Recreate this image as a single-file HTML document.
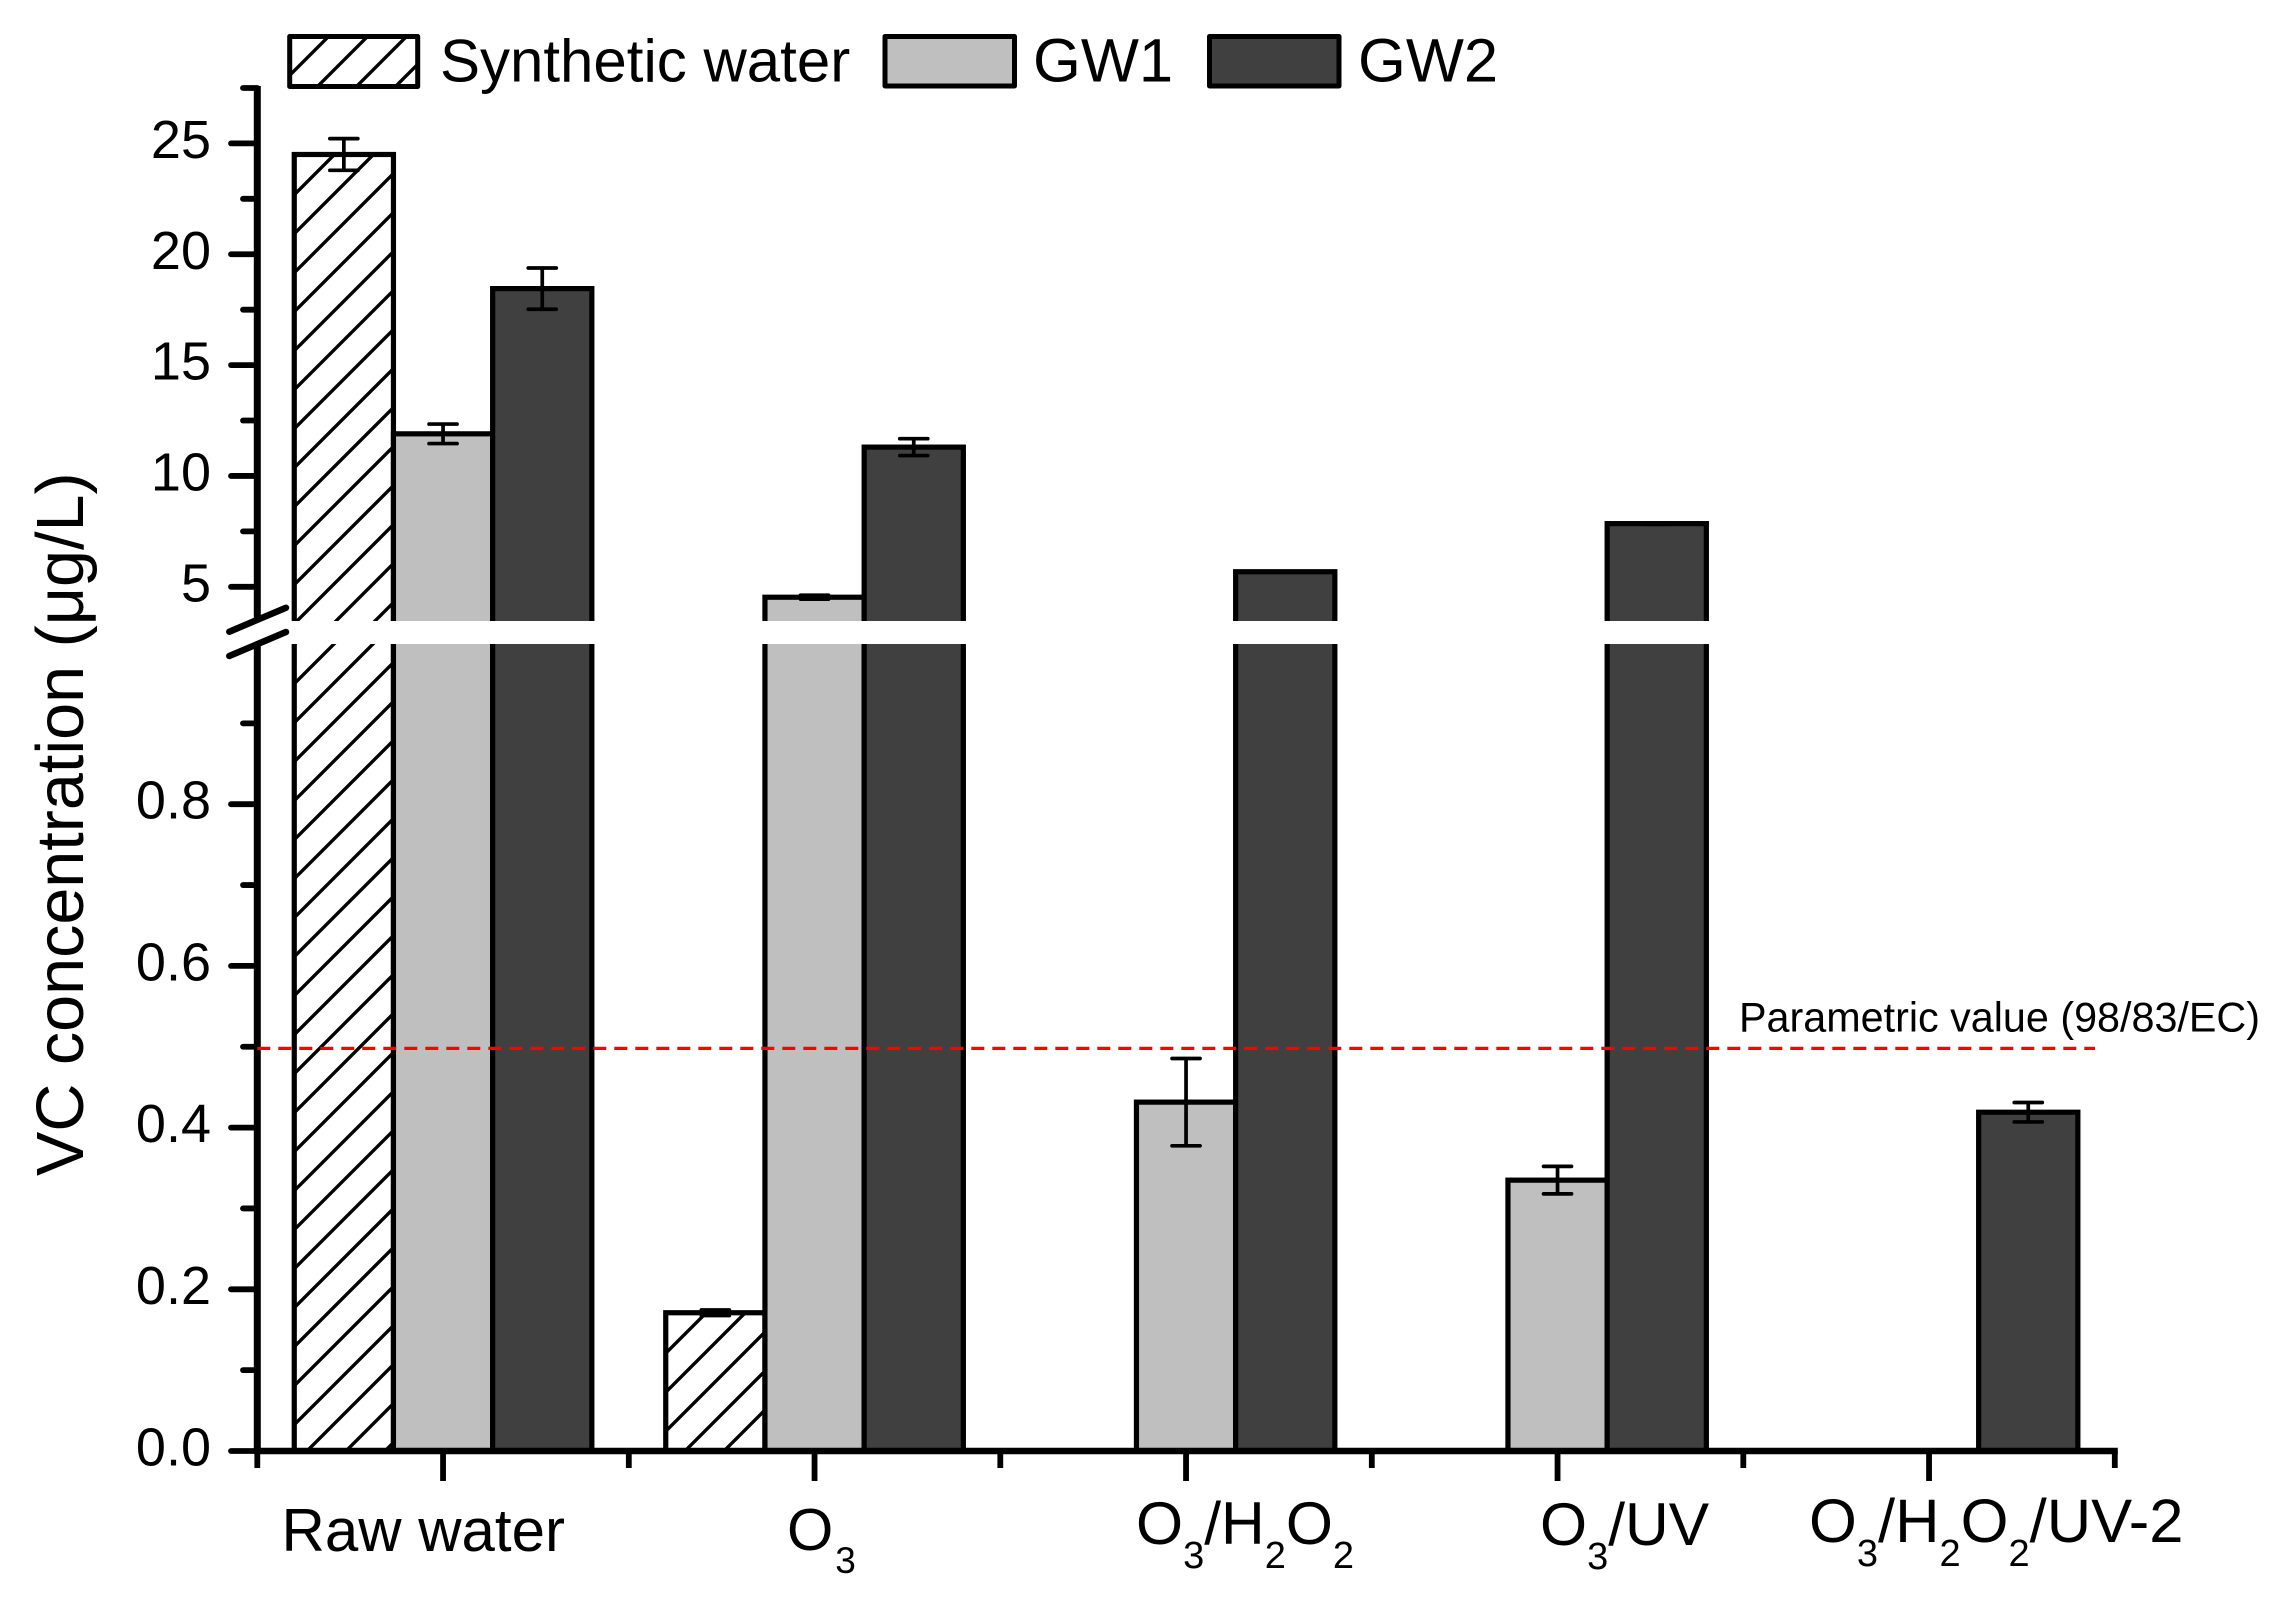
<!DOCTYPE html>
<html lang="en">
<head>
<meta charset="utf-8">
<title>VC concentration chart</title>
<style>
html,body{margin:0;padding:0;background:#fff;}
svg{display:block;font-family:"Liberation Sans",Arial,sans-serif;}
</style>
</head>
<body>
<svg id="chart" xmlns="http://www.w3.org/2000/svg" width="2294" height="1616" viewBox="0 0 2294 1616">
<defs>
<pattern id="hatch-lower" width="39" height="39" patternUnits="userSpaceOnUse" patternTransform="translate(3,0)"><path d="M-5,5 L5,-5 M-5,44 L44,-5 M34,44 L44,34" stroke="#000" stroke-width="3.4" fill="none"/></pattern>
<pattern id="hatch-upper" width="39" height="39" patternUnits="userSpaceOnUse" patternTransform="translate(21,0)"><path d="M-5,5 L5,-5 M-5,44 L44,-5 M34,44 L44,34" stroke="#000" stroke-width="3.4" fill="none"/></pattern>
<pattern id="hatch-o3" width="39" height="39" patternUnits="userSpaceOnUse" patternTransform="translate(30,0)"><path d="M-5,5 L5,-5 M-5,44 L44,-5 M34,44 L44,34" stroke="#000" stroke-width="3.4" fill="none"/></pattern>
<pattern id="hatch-legend" width="39" height="39" patternUnits="userSpaceOnUse" patternTransform="translate(14,0)"><path d="M-5,5 L5,-5 M-5,44 L44,-5 M34,44 L44,34" stroke="#000" stroke-width="3.4" fill="none"/></pattern>
</defs>

<g id="bars"></g>
<rect x="287" y="621" width="1840" height="23" fill="#fff"/>
<g id="errors"></g>
<g id="axes"></g>

<line x1="229.3" y1="631.7" x2="286" y2="607.7" stroke="#000" stroke-width="6.5" stroke-linecap="round"/>
<line x1="229.3" y1="656" x2="286" y2="632" stroke="#000" stroke-width="6.5" stroke-linecap="round"/>

<g id="reference"></g>
<text x="1739" y="1031.7" font-size="41.3" fill="#000">Parametric value (98/83/EC)</text>

<text transform="translate(83,1176) rotate(-90)" font-size="66.5" fill="#000">VC concentration (μg/L)</text>

<g>
  <g>
    <rect x="289.7" y="36.5" width="128" height="50" fill="url(#hatch-legend)" stroke="#000" stroke-width="5" stroke-linejoin="round"/>
    <text x="440" y="81.7" font-size="60" fill="#000">Synthetic water</text>
  </g>
  <g>
    <rect x="885" y="36.5" width="129.5" height="49.5" fill="#bfbfbf" stroke="#000" stroke-width="5" stroke-linejoin="round"/>
    <text x="1033" y="81.7" font-size="61.5" fill="#000">GW1</text>
  </g>
  <g>
    <rect x="1209.5" y="36.5" width="129.5" height="49.5" fill="#404040" stroke="#000" stroke-width="5" stroke-linejoin="round"/>
    <text x="1358" y="81.7" font-size="61.5" fill="#000">GW2</text>
  </g>
</g>

<g font-size="60.5" fill="#000">
  <text x="281.5" y="1551" font-size="60">Raw water</text>
  <text x="787" y="1550" font-size="59.5">O<tspan font-size="37" dy="23" dx="2">3</tspan></text>
  <text x="1136" y="1544">O<tspan font-size="38" dy="24">3</tspan><tspan dy="-24">/H</tspan><tspan font-size="38" dy="24">2</tspan><tspan dy="-24">O</tspan><tspan font-size="38" dy="24">2</tspan></text>
  <text x="1540" y="1545">O<tspan font-size="38" dy="24">3</tspan><tspan dy="-24">/UV</tspan></text>
  <text x="1809" y="1542" font-size="61.5">O<tspan font-size="38" dy="24">3</tspan><tspan dy="-24">/H</tspan><tspan font-size="38" dy="24">2</tspan><tspan dy="-24">O</tspan><tspan font-size="38" dy="24">2</tspan><tspan dy="-24">/UV-2</tspan></text>
</g>

<script>
var categories = ["Raw water", "O3", "O3/H2O2", "O3/UV", "O3/H2O2/UV-2"];
var seriesNames = ["synthetic-water", "gw1", "gw2"];
var syntheticValues = [24.5, 0.171, null, null, null];
var gw1Values = [11.9, 4.53, 0.4315, 0.335, null];
var gw2Values = [18.45, 11.3, 5.68, 7.85, 0.419];
var syntheticErrors = [0.715, 0.0035, null, null, null];
var gw1Errors = [0.44, 0.088, 0.054, 0.017, null];
var gw2Errors = [0.93, 0.38, 0, 0.03, 0.012];
var upperMajorTicks = [5, 10, 15, 20, 25];
var upperMinorTicks = [7.5, 12.5, 17.5, 22.5, 27.5];
var lowerMajorTicks = [0, 0.2, 0.4, 0.6, 0.8];
var lowerMinorTicks = [0.1, 0.3, 0.5, 0.7, 0.9];
var upperTickLabels = ["5", "10", "15", "20", "25"];
var lowerTickLabels = ["0.0", "0.2", "0.4", "0.6", "0.8"];
var parametricValue = 0.498;

var NS = "http://www.w3.org/2000/svg";
var BREAK_VALUE = 2;
var AXIS_X = 257.3;
var AXIS_Y = 1451;
var GAP_TOP = 621;
var GAP_BOTTOM = 644;
var CAT_STEP = 371.5;
var BAR_STEP = 99.2;

function yScale(v) {
  if (v <= BREAK_VALUE) return AXIS_Y - v * 808.5;
  return 586.8 - (v - 5) * 22.17;
}
function catX(i) {
  return AXIS_X + CAT_STEP * (i + 0.5);
}
function barX(i, s) {
  return catX(i) + (s - 1) * BAR_STEP;
}
function make(tag, parent, attrs) {
  var el = document.createElementNS(NS, tag);
  for (var k in attrs) el.setAttribute(k, attrs[k]);
  parent.appendChild(el);
  return el;
}

var barsG = document.getElementById("bars");
var errorsG = document.getElementById("errors");
var axesG = document.getElementById("axes");
var refG = document.getElementById("reference");
var seriesValues = [syntheticValues, gw1Values, gw2Values];
var seriesErrors = [syntheticErrors, gw1Errors, gw2Errors];
var seriesFills = ["#fff", "#bfbfbf", "#404040"];

seriesValues.forEach(function (values, s) {
  values.forEach(function (v, i) {
    if (v === null) return;
    var left = barX(i, s) - BAR_STEP / 2;
    var top = yScale(v);
    var bar = make("rect", barsG, {x: left, y: top, width: BAR_STEP, height: AXIS_Y - top, fill: seriesFills[s]});
    
    
    if (s === 0) {
      var lowTop = Math.max(top, GAP_BOTTOM);
      var low = make("rect", barsG, {x: left, y: lowTop, width: BAR_STEP, height: AXIS_Y - lowTop, fill: i === 0 ? "url(#hatch-lower)" : "url(#hatch-o3)"});
      
      
      if (top < GAP_TOP) {
        var up = make("rect", barsG, {x: left, y: top, width: BAR_STEP, height: GAP_TOP - top, fill: "url(#hatch-upper)"});
        
        
      }
    }
    var outline = make("rect", barsG, {x: left, y: top, width: BAR_STEP, height: AXIS_Y - top, fill: "none", stroke: "#000", "stroke-width": 5.2});
    
    
  });
});

seriesErrors.forEach(function (errs, s) {
  errs.forEach(function (e, i) {
    if (e === null || e === 0) return;
    var v = seriesValues[s][i];
    var cx = barX(i, s);
    var yHi = yScale(v + e);
    var yLo = yScale(v - e);
    var d = "M" + cx + "," + yHi + " L" + cx + "," + yLo +
            " M" + (cx - 14) + "," + yHi + " L" + (cx + 14) + "," + yHi +
            " M" + (cx - 14) + "," + yLo + " L" + (cx + 14) + "," + yLo;
    var err = make("path", errorsG, {d: d, stroke: "#000", "stroke-width": 3.7, fill: "none", "stroke-linecap": "round"});
    
    
  });
});

var yUpper = make("line", axesG, {x1: AXIS_X, y1: yScale(27.5) - 2, x2: AXIS_X, y2: 618, stroke: "#000", "stroke-width": 7});



var yLower = make("line", axesG, {x1: AXIS_X, y1: 646, x2: AXIS_X, y2: AXIS_Y + 3, stroke: "#000", "stroke-width": 7});



var xAxis = make("line", axesG, {x1: AXIS_X - 3, y1: AXIS_Y, x2: AXIS_X + CAT_STEP * categories.length + 3, y2: AXIS_Y, stroke: "#000", "stroke-width": 6.5});



function drawYMajor(ticks, labels) {
  ticks.forEach(function (t, i) {
    var y = yScale(t);
    var tick = make("line", axesG, {x1: 231, y1: y, x2: AXIS_X, y2: y, stroke: "#000", "stroke-width": 5.8, "stroke-linecap": "round"});
    
    
    var label = make("text", axesG, {x: 211, y: y + 14.5, "font-size": 54, "text-anchor": "end", fill: "#000"});
    
    
    label.textContent = labels[i];
  });
}
function drawYMinor(ticks) {
  ticks.forEach(function (t) {
    var y = yScale(t);
    var tick = make("line", axesG, {x1: 243, y1: y, x2: AXIS_X, y2: y, stroke: "#000", "stroke-width": 5.8, "stroke-linecap": "round"});
    
    
  });
}
drawYMajor(upperMajorTicks, upperTickLabels);
drawYMajor(lowerMajorTicks, lowerTickLabels);
drawYMinor(upperMinorTicks);
drawYMinor(lowerMinorTicks);

categories.forEach(function (c, i) {
  var major = make("line", axesG, {x1: catX(i), y1: AXIS_Y, x2: catX(i), y2: 1481, stroke: "#000", "stroke-width": 5.8});
  
  
});
for (var m = 0; m <= categories.length; m++) {
  var minor = make("line", axesG, {x1: AXIS_X + CAT_STEP * m, y1: AXIS_Y, x2: AXIS_X + CAT_STEP * m, y2: 1468, stroke: "#000", "stroke-width": 5.8});
  
  
}

var refLine = make("line", refG, {x1: AXIS_X, y1: yScale(parametricValue), x2: 2095, y2: yScale(parametricValue), stroke: "#ff0000", "stroke-width": 3.3, "stroke-dasharray": "13 8"});


</script>
</svg>
</body>
</html>
